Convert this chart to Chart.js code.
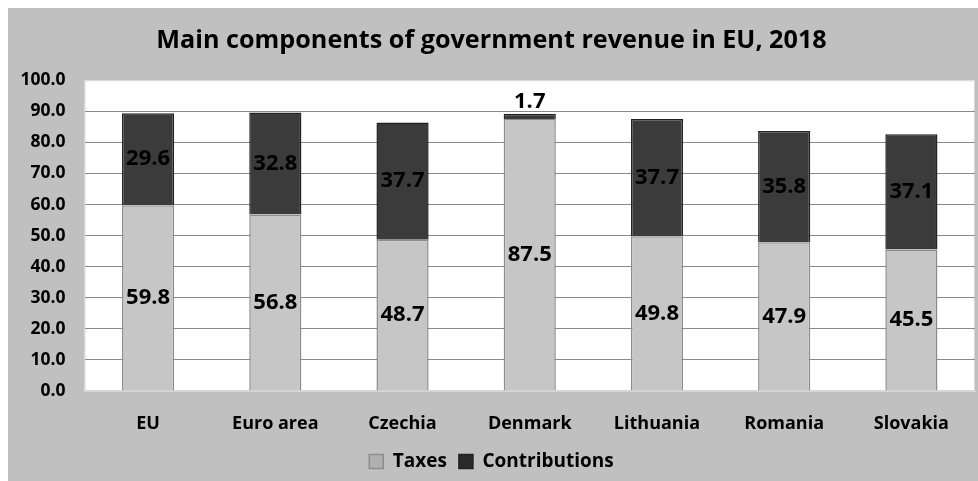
<!DOCTYPE html>
<html>
<head>
<meta charset="utf-8">
<script src="https://cdn.jsdelivr.net/npm/chart.js@4.4.1/dist/chart.umd.min.js"></script>
<style>
    html, body { margin: 0; padding: 0; background: #ffffff; }
    #wrap { position: absolute; left: 8px; top: 8px; }
</style>
</head>
<body>
<div id="wrap"><canvas id="revenue-chart" width="970" height="473"></canvas></div>
<script>
// Revenue data, % of GDP
const categories = ['EU', 'Euro area', 'Czechia', 'Denmark', 'Lithuania', 'Romania', 'Slovakia'];
const taxes = [59.8, 56.8, 48.7, 87.5, 49.8, 47.9, 45.5];
const contributions = [29.6, 32.8, 37.7, 1.7, 37.7, 35.8, 37.1];

const FONT = '"Open Sans", Lato, sans-serif';
const COLORS = {
    page: '#c0c0c0',
    plot: '#ffffff',
    grid: '#8a8a8a',
    taxes: '#c6c6c6',
    taxesBorder: '#8c8c8c',
    contributions: '#3b3b3b',
    contributionsBorder: '#222222'
};

// Slight shading toward the bar edges
function barFill(base, edge) {
    return ctx => {
        const bar = ctx.element;
        if (!bar || bar.width === undefined || isNaN(bar.x)) return base;
        const left = bar.x - bar.width / 2;
        const g = ctx.chart.ctx.createLinearGradient(left, 0, left + bar.width, 0);
        g.addColorStop(0, edge);
        g.addColorStop(0.12, base);
        g.addColorStop(0.88, base);
        g.addColorStop(1, edge);
        return g;
    };
}

// Gray page with white plot area
const backgroundPlugin = {
    id: 'background',
    beforeDraw(chart) {
        const { ctx, chartArea: a } = chart;
        ctx.save();
        ctx.fillStyle = COLORS.page;
        ctx.fillRect(0, 0, chart.width, chart.height);
        ctx.fillStyle = COLORS.plot;
        ctx.fillRect(a.left, a.top, a.right - a.left, a.bottom - a.top);
        ctx.strokeStyle = '#d6d6d6';
        ctx.lineWidth = 1;
        ctx.strokeRect(a.left + 0.5, a.top + 0.5, a.right - a.left - 1, a.bottom - a.top - 1);
        ctx.restore();
    }
};

// Value labels centred in each segment, small segments get theirs on top
const valueLabels = {
    id: 'valueLabels',
    afterDatasetsDraw(chart) {
        const { ctx } = chart;
        ctx.save();
        ctx.font = 'bold 22px ' + FONT;
        ctx.fillStyle = '#000000';
        ctx.textAlign = 'center';
        ctx.textBaseline = 'middle';
        chart.data.datasets.forEach((ds, i) => {
            chart.getDatasetMeta(i).data.forEach((bar, j) => {
                const h = bar.base - bar.y;
                const y = h < 24 ? bar.y - 12 : (bar.y + bar.base) / 2;
                ctx.fillText(ds.data[j].toFixed(1), bar.x, y);
            });
        });
        ctx.restore();
    }
};

new Chart(document.getElementById('revenue-chart'), {
    type: 'bar',
    data: {
        labels: categories,
        datasets: [{
            label: 'Taxes',
            data: taxes,
            backgroundColor: barFill(COLORS.taxes, '#b0b0b0'),
            borderColor: COLORS.taxesBorder,
            borderWidth: 1.5
        }, {
            label: 'Contributions',
            data: contributions,
            backgroundColor: barFill(COLORS.contributions, '#2a2a2a'),
            borderColor: COLORS.contributionsBorder,
            borderWidth: 1.5
        }]
    },
    options: {
        responsive: false,
        animation: false,
        barPercentage: 0.41,
        categoryPercentage: 1,
        layout: { padding: { left: 0, right: 3, top: 0, bottom: 0 } },
        plugins: {
            title: {
                display: true,
                text: 'Main components of government revenue in EU, 2018',
                color: '#000000',
                font: { family: FONT, size: 25.2, weight: 'bold' },
                padding: { top: 18, bottom: 24 }
            },
            legend: {
                position: 'bottom',
                labels: {
                    color: '#000000',
                    font: { family: FONT, size: 19, weight: 'bold' },
                    boxWidth: 14,
                    boxHeight: 14,
                    padding: 12
                }
            },
            tooltip: { enabled: false }
        },
        scales: {
            x: {
                stacked: true,
                grid: { display: false, drawTicks: false },
                border: { display: true, color: '#d6d6d6' },
                ticks: {
                    color: '#000000',
                    font: { family: FONT, size: 18, weight: 'bold' },
                    padding: 22
                },
                afterFit: scale => { scale.height = 49; }
            },
            y: {
                stacked: true,
                min: 0,
                max: 100,
                grid: {
                    drawTicks: false,
                    color: ctx => (ctx.tick.value === 0 || ctx.tick.value === 100) ? 'rgba(0,0,0,0)' : COLORS.grid
                },
                border: { display: false },
                ticks: {
                    stepSize: 10,
                    color: '#000000',
                    font: { family: FONT, size: 17.5, weight: 'bold' },
                    padding: 19,
                    callback: value => value.toFixed(1)
                },
                afterFit: scale => { scale.width = 76.5; }
            }
        }
    },
    plugins: [backgroundPlugin, valueLabels]
});
</script>
</body>
</html>
